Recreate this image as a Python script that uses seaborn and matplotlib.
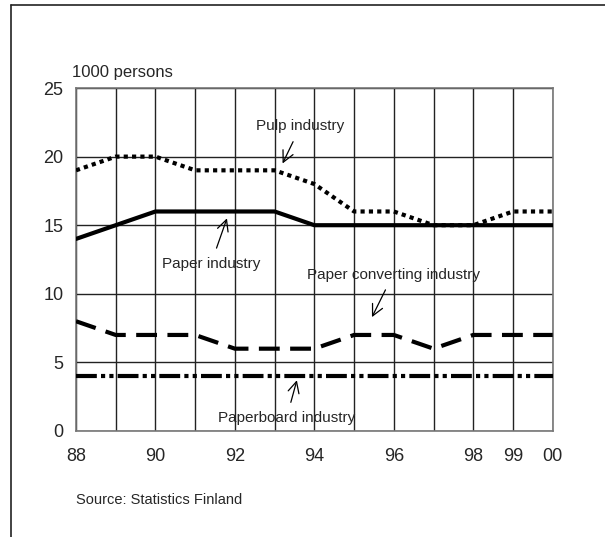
import matplotlib
matplotlib.use("Agg")
import matplotlib.pyplot as plt
import seaborn as sns
import pandas as pd
from matplotlib.lines import Line2D

# employment in the forest industry, 1000 persons
years = list(range(1988, 2001))
pulp = [19, 20, 20, 19, 19, 19, 18, 16, 16, 15, 15, 16, 16]
paper = [14, 15, 16, 16, 16, 16, 15, 15, 15, 15, 15, 15, 15]
converting = [8, 7, 7, 7, 6, 6, 6, 7, 7, 6, 7, 7, 7]
paperboard = [4, 4, 4, 4, 4, 4, 4, 4, 4, 4, 4, 4, 4]
tick_labels = ["88", "", "90", "", "92", "", "94", "", "96", "", "98", "99", "00"]

df = pd.DataFrame({"year": years, "Pulp industry": pulp, "Paper industry": paper,
                   "Paper converting industry": converting,
                   "Paperboard industry": paperboard})

sns.set_style("white")
plt.rcParams["font.family"] = ["Liberation Sans", "DejaVu Sans"]

fig = plt.figure(figsize=(6.05, 5.37), dpi=100)
ax = fig.add_axes([0.1256, 0.1974, 0.788, 0.6387])

styles = {
    "Pulp industry": (0, (1, 1)),
    "Paper industry": "-",
    "Paper converting industry": (0, (5, 2.5)),
    "Paperboard industry": (0, (5, 1, 1, 1, 1, 1)),
}
for name, ls in styles.items():
    sns.lineplot(data=df, x="year", y=name, ax=ax, color="black", lw=3,
                 linestyle=ls, dash_capstyle="butt", zorder=3)

ax.set_xlim(1988, 2000)
ax.set_ylim(0, 25)
ax.set_xticks(years)
ax.set_xticklabels(tick_labels, fontsize=13)
ax.set_yticks([0, 5, 10, 15, 20, 25])
ax.set_yticklabels(["0", "5", "10", "15", "20", "25"], fontsize=13)
ax.tick_params(axis="x", direction="out", length=4, width=1, color="#444444", pad=8)
ax.tick_params(axis="y", direction="out", length=4, width=1, color="#444444", pad=5)
ax.set_xlabel("")
ax.set_ylabel("")
ax.grid(True, color="#222222", lw=1)
for s in ax.spines.values():
    s.set_color("#777777")
    s.set_linewidth(1.2)

ax.text(1987.9, 25.6, "1000 persons", fontsize=12, ha="left", va="bottom")

arrow = dict(arrowstyle="->", color="black", lw=0.9, mutation_scale=20,
             shrinkA=4, shrinkB=0)
ax.annotate("Pulp industry", xy=(1993.2, 19.5), xytext=(1993.65, 22.2),
            fontsize=11, ha="center", va="center", arrowprops=arrow)
ax.annotate("Paper industry", xy=(1991.8, 15.5), xytext=(1991.4, 12.2),
            fontsize=11, ha="center", va="center", arrowprops=arrow)
ax.annotate("Paper converting industry", xy=(1995.45, 8.3), xytext=(1995.98, 11.4),
            fontsize=11, ha="center", va="center", arrowprops=arrow)
ax.annotate("Paperboard industry", xy=(1993.56, 3.7), xytext=(1993.3, 0.95),
            fontsize=11, ha="center", va="center", arrowprops=arrow)

fig.text(76 / 605, 1 - 500 / 537, "Source: Statistics Finland", fontsize=10.5,
         ha="left", va="center")

# page frame: top and left edges only
fig.add_artist(Line2D([11 / 605, 1], [1 - 5 / 537, 1 - 5 / 537], color="#222222", lw=1.2))
fig.add_artist(Line2D([11 / 605, 11 / 605], [0, 1 - 5 / 537], color="#222222", lw=1.2))

fig.savefig("out.png", dpi=100)
